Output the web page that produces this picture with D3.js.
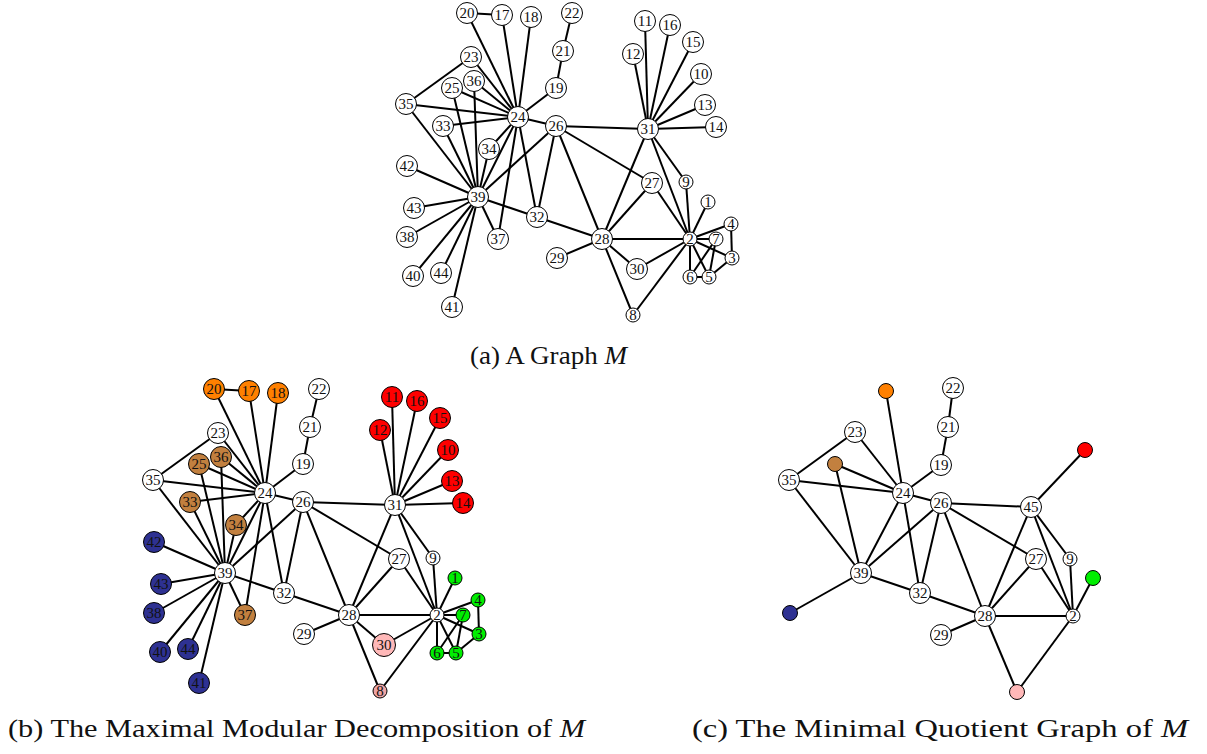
<!DOCTYPE html>
<html>
<head>
<meta charset="utf-8">
<script src="https://cdn.jsdelivr.net/npm/d3@7"></script>
<style>
  body { margin: 0; background: #fff; }
  svg { display: block; }
  .edge { stroke: #000; stroke-width: 2; }
  .node circle { stroke: #000; stroke-width: 1; }
  .node text { font-family: "Liberation Serif", serif; font-size: 15px; fill: #111; }
  .caption { font-family: "Liberation Serif", serif; font-size: 26px; fill: #111; }
</style>
</head>
<body>
<svg id="chart" width="1207" height="754"></svg>
<script>
// graph M : node ids and layout coordinates
const nodeIdsM = [1,2,3,4,5,6,7,8,9,10,11,12,13,14,15,16,17,18,19,20,21,22,23,24,25,26,27,28,29,30,31,32,33,34,35,36,37,38,39,40,41,42,43,44];
const nodeXM = [308,290,332,331,309,290,316,233,286,301,245,233,305,316,293,270,102,131,156,67,163,172,71,118,52,156,252,202,157,237,248,137,43,89,6,74,98,7,78,13,52,7,14,41];
const nodeYM = [202,239,258,224,277,277,239,315,182,74,21,54,105,127,42,25,15,17,88,13,51,13,57,117,88,126,183,239,258,269,129,217,126,149,104,81,239,237,197,276,307,166,208,273];
const edgesM = [
  [20,17],[20,24],[17,24],[18,24],[22,21],[21,19],[19,24],[23,35],[23,24],
  [36,24],[36,39],[25,24],[25,39],[35,24],[35,39],[33,24],[33,39],[34,24],[34,39],
  [24,39],[24,26],[24,32],[24,37],[39,37],[39,32],[39,26],
  [39,42],[39,43],[39,38],[39,40],[39,44],[39,41],
  [26,32],[26,28],[26,31],[26,27],[32,28],
  [31,11],[31,12],[31,16],[31,15],[31,10],[31,13],[31,14],[31,28],[31,2],[31,9],
  [27,28],[27,2],[9,2],[28,2],[28,29],[28,30],[28,8],[2,30],[2,8],
  [2,1],[2,4],[2,7],[2,3],[2,5],[2,6],[4,3],[3,5],[5,6],[6,7],[5,7]
];

// maximal modules of M
const moduleNames = ["orange", "brown", "blue", "red", "green", "pinkA", "pinkB"];
const moduleMembers = [
  [17,18,20],
  [25,33,34,36,37],
  [38,40,41,42,43,44],
  [10,11,12,13,14,15,16],
  [1,3,4,5,6,7],
  [30],
  [8]
];

// quotient graph
const nodeIdsQ = ["O","22","21","23","Br","19","35","24","26","45","R","27","9","G","39","32","Bl","28","29","2","P"];
const nodeXQ = [126,193,188,95,75,181,29,143,181,271,325,276,310,333,101,160,30,225,181,313,257];
const nodeYQ = [21,18,57,62,94,95,110,123,133,137,80,189,189,208,203,223,243,246,265,246,322];
const moduleOfQ = {O: "orange", Br: "brown", Bl: "blue", R: "red", G: "green", P: "pinkA"};
const edgesQ = [
  ["O","24"],["22","21"],["21","19"],["19","24"],["23","35"],["23","24"],["Br","24"],["Br","39"],
  ["35","24"],["35","39"],["24","26"],["24","39"],["24","32"],["26","39"],["26","32"],["26","28"],
  ["26","27"],["26","45"],["45","R"],["45","28"],["45","9"],["45","2"],["27","28"],["27","2"],
  ["9","2"],["2","G"],["28","2"],["28","29"],["28","32"],["28","P"],["2","P"],["39","Bl"],["39","32"]
];

const captions = [
  {tag: "(a) A Graph ", it: "M"},
  {tag: "(b) The Maximal Modular Decomposition of ", it: "M"},
  {tag: "(c) The Minimal Quotient Graph of ", it: "M"}
];

const moduleColor = {
  orange: "#ff8000", brown: "#c2803f", blue: "#2e3192", red: "#ff0000",
  green: "#00ee00", pinkA: "#ffb8b8", pinkB: "#eea4a4"
};

const svg = d3.select("#chart");

function drawGraph(ids, xs, ys, edges, sx, sy, fillOf, radiusOf, labelOf) {
  const pos = new Map(ids.map((id, i) => [String(id), {x: sx(xs[i]), y: sy(ys[i])}]));
  const g = svg.append("g");
  g.selectAll(".edge")
    .data(edges)
    .enter().append("line")
    .attr("class", "edge")
    .attr("x1", d => pos.get(String(d[0])).x)
    .attr("y1", d => pos.get(String(d[0])).y)
    .attr("x2", d => pos.get(String(d[1])).x)
    .attr("y2", d => pos.get(String(d[1])).y);
  const nodes = g.selectAll(".node")
    .data(ids.map(String))
    .enter().append("g")
    .attr("class", "node")
    .attr("transform", d => `translate(${pos.get(d).x},${pos.get(d).y})`);
  nodes.append("circle")
    .attr("r", d => radiusOf(d))
    .attr("fill", d => fillOf(d));
  nodes.append("text")
    .attr("text-anchor", "middle")
    .attr("dy", "0.35em")
    .text(d => labelOf(d));
}

const labelR = d => d.length > 1 ? 10.5 : 7;

// (a)
drawGraph(nodeIdsM, nodeXM, nodeYM, edgesM,
  d3.scaleLinear().domain([0, 340]).range([400, 740]),
  d3.scaleLinear().domain([0, 320]).range([0, 320]),
  d => "#fff", labelR, d => d);

// (b)
const moduleLookup = new Map();
moduleMembers.forEach((m, i) => m.forEach(id => moduleLookup.set(String(id), moduleNames[i])));
drawGraph(nodeIdsM, nodeXM, nodeYM, edgesM,
  d3.scaleLinear().domain([0, 340]).range([147, 487]),
  d3.scaleLinear().domain([0, 320]).range([376, 696]),
  d => moduleLookup.has(d) ? moduleColor[moduleLookup.get(d)] : "#fff",
  d => d === "30" ? 11.5 : labelR(d), d => d);

// (c)
drawGraph(nodeIdsQ, nodeXQ, nodeYQ, edgesQ,
  d3.scaleLinear().domain([0, 340]).range([760, 1100]),
  d3.scaleLinear().domain([0, 330]).range([370, 700]),
  d => moduleOfQ[d] ? moduleColor[moduleOfQ[d]] : "#fff",
  d => moduleOfQ[d] ? 7.5 : labelR(d),
  d => moduleOfQ[d] ? "" : d);

// captions
const capX = [470, 8, 692], capY = [364, 737, 737], capW = [157, 577, 496];
captions.forEach((c, i) => {
  const t = svg.append("text").attr("class", "caption")
    .attr("x", capX[i]).attr("y", capY[i])
    .attr("textLength", capW[i]).attr("lengthAdjust", "spacingAndGlyphs");
  t.append("tspan").text(c.tag);
  t.append("tspan").style("font-style", "italic").text(c.it);
});
</script>
</body>
</html>
